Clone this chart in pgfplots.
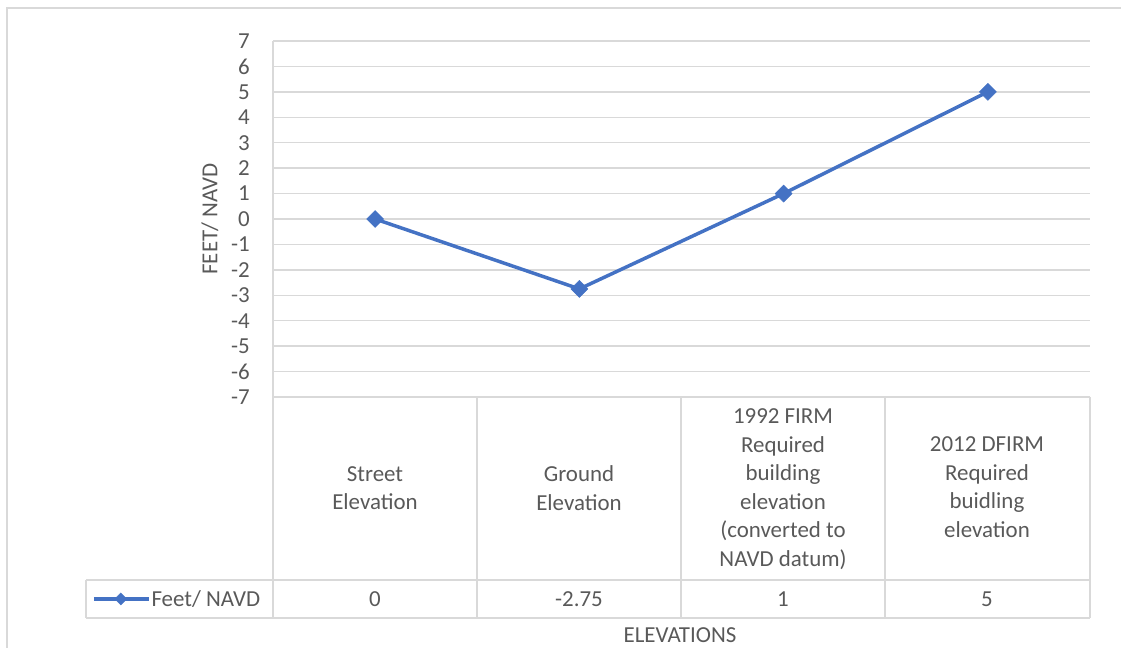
\documentclass[border=0pt]{standalone}
\usepackage{fontspec}
\setmainfont{Carlito}
\usepackage{pgfplots}
\pgfplotsset{compat=1.18}
\definecolor{exblue}{HTML}{4472C4}
\definecolor{exgrid}{HTML}{D9D9D9}
\definecolor{extext}{HTML}{595959}
\begin{document}
\begin{tikzpicture}[x=1bp,y=1bp]
\useasboundingbox (0,0) rectangle (1121,648);
\newcommand{\fs}{\fontsize{23}{28.6}\selectfont}
% outer frame
\draw[exgrid, line width=1.5bp] (7,0) -- (7,640) -- (1121,640);
\begin{axis}[
  at={(273bp,251bp)}, anchor=south west,
  scale only axis, width=817bp, height=356bp,
  xmin=-0.5, xmax=3.5, ymin=-7, ymax=7,
  ytick={-7,-6,...,7}, xtick=\empty,
  axis line style={draw=none},
  major tick length=0pt,
  ymajorgrids, grid style={exgrid, line width=1.5bp},
  /pgf/number format/assume math mode=true,
  yticklabel style={font=\fs, text=extext, inner sep=0pt, anchor=east, xshift=-23bp},
  clip=false,
  legend style={at={(-0.2215,-0.5674)}, anchor=west, draw=none, fill=none,
    font=\fs, text=extext, inner sep=0pt, outer sep=0pt,
    nodes={inner sep=1bp}},
  legend image code/.code={\draw[mark repeat=2, mark phase=2, #1, mark size=4.2bp]
     plot coordinates {(0bp,0bp) (27bp,0bp) (55bp,0bp)};},
]
\addplot[color=exblue, line width=3.5bp, mark=square*,
  mark options={rotate=45, line width=0.5bp, fill=exblue}, mark size=6bp]
  coordinates {(0,0) (1,-2.75) (2,1) (3,5)};
\addlegendentry{Feet/ NAVD}
\end{axis}
% left axis line and data table
\draw[exgrid, line width=1.5bp] (273,607) -- (273,30);
\foreach \xx in {477,681,885,1090} \draw[exgrid, line width=1.5bp] (\xx,251) -- (\xx,30);
\draw[exgrid, line width=1.5bp] (86,68) -- (1090,68);
\draw[exgrid, line width=1.5bp] (86,30) -- (1090,30);
\draw[exgrid, line width=1.5bp] (86,30) -- (86,68);
\begin{scope}[every node/.style={font=\fs, text=extext, align=center, inner sep=0pt}]
\node at (375,160) {Street\\Elevation};
\node at (579,160) {Ground\\Elevation};
\node at (783,159) {1992 FIRM\\Required\\building\\elevation\\(converted to\\NAVD datum)};
\node at (987,161) {2012 DFIRM\\Required\\buidling\\elevation};
\node at (375,49) {0};
\node at (579,49) {-2.75};
\node at (783,49) {1};
\node at (987,49) {5};
\node[rotate=90] at (210,429) {FEET/ NAVD};
\node at (680,13) {ELEVATIONS};
\end{scope}
\end{tikzpicture}
\end{document}
